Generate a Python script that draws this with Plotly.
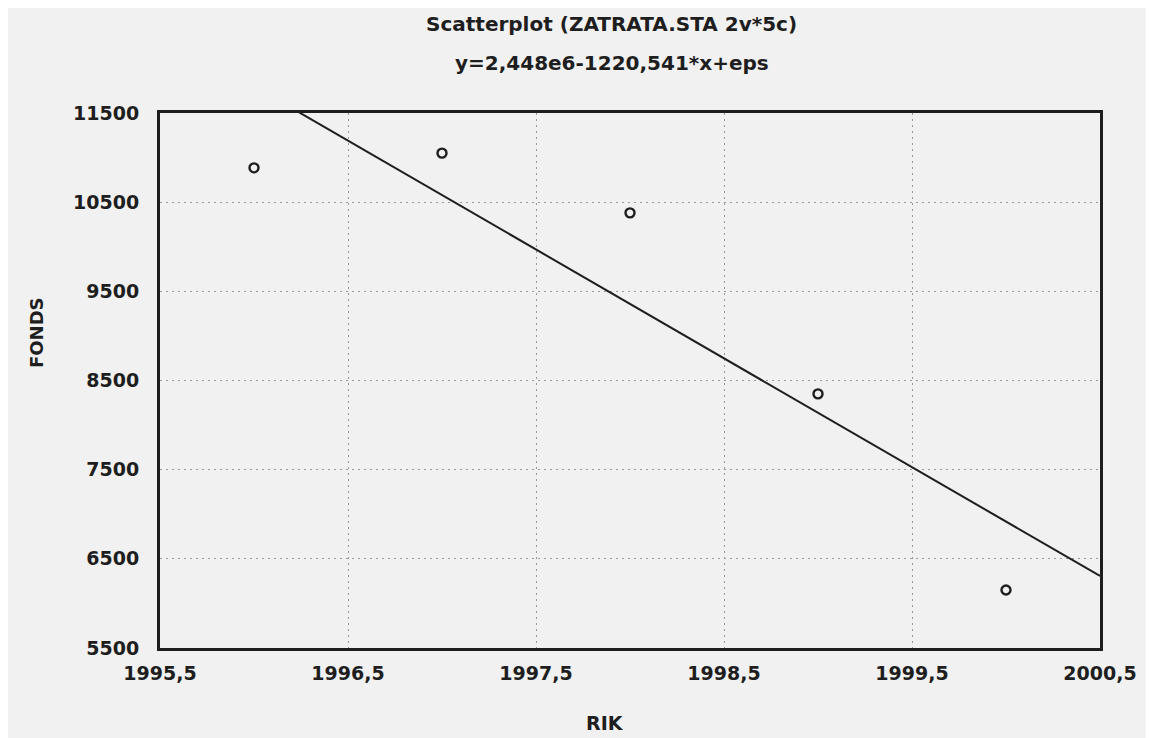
import numpy as np
import plotly.graph_objects as go

rik = [1996, 1997, 1998, 1999, 2000]
fonds = [10885, 11050, 10380, 8350, 6150]

# regression coefficients printed in the chart header
intercept = 2.448e6
slope = -1220.541

x_ticks = [1995.5, 1996.5, 1997.5, 1998.5, 1999.5, 2000.5]
y_ticks = [5500, 6500, 7500, 8500, 9500, 10500, 11500]

title_text = "Scatterplot (ZATRATA.STA 2v*5c)"
eq_text = "y=2,448e6-1220,541*x+eps"

ink = "#1e1e1e"
bg = "#f1f1f1"
font_name = "DejaVu Sans"

# page body has an 8px margin, so the figure is drawn 8px in from the corner
W, H = 1146, 730
L, R, T, B = 152, 54, 105, 90
pw, ph = W - L - R, H - T - B


def paper(px, py):
    # page pixel position -> paper coordinates
    return (px - 8 - L) / pw, (H - B - (py - 8)) / ph


line_x = np.array([x_ticks[0], x_ticks[-1]])
line_y = intercept + slope * line_x

fig = go.Figure()
fig.add_trace(go.Scatter(x=line_x, y=line_y, mode="lines",
                         line=dict(color=ink, width=2), showlegend=False))
fig.add_trace(go.Scatter(x=rik, y=fonds, mode="markers",
                         marker=dict(symbol="circle-open", size=9, color=ink,
                                     line=dict(color=ink, width=2.4)),
                         showlegend=False))

axis_common = dict(
    showline=True, linecolor=ink, linewidth=3, mirror=True,
    showgrid=True, gridcolor="#9a9a9a", griddash="2px,4px", gridwidth=1,
    zeroline=False, ticks="",
    tickfont=dict(family=font_name, size=19, color=ink, weight="bold"),
)

fig.update_xaxes(range=[x_ticks[0], x_ticks[-1]], tickvals=x_ticks,
                 ticktext=[f"{v:.1f}".replace(".", ",") for v in x_ticks],
                 ticklabelstandoff=6, **axis_common)
fig.update_yaxes(range=[y_ticks[0], y_ticks[-1]], tickvals=y_ticks,
                 ticktext=[str(v) for v in y_ticks],
                 ticklabelstandoff=14, **axis_common)

labels = [
    (title_text, 611, 24, 20, "bold", 0),
    (eq_text, 612, 63, 20, "bold", 0),
    ("FONDS", 36, 333, 18, "bold", -90),
    ("RIK", 605, 723, 19, "bold", 0),
]
annotations = []
for text, px, py, size, weight, angle in labels:
    x, y = paper(px, py)
    annotations.append(dict(text=text, x=x, y=y, xref="paper", yref="paper",
                            xanchor="center", yanchor="middle", showarrow=False,
                            textangle=angle,
                            font=dict(family=font_name, size=size, color=ink,
                                      weight=weight)))

fig.update_layout(
    width=W, height=H,
    margin=dict(l=L, r=R, t=T, b=B),
    paper_bgcolor=bg, plot_bgcolor=bg,
    font=dict(family=font_name, color=ink),
    annotations=annotations,
)

fig.write_html("out.html")
